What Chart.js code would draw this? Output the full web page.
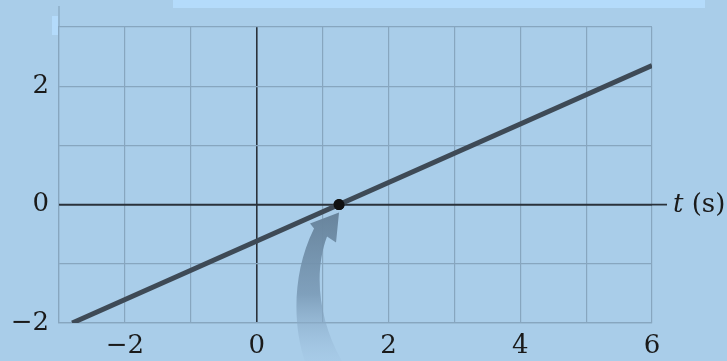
<!DOCTYPE html>
<html>
<head>
<meta charset="utf-8">
<style>
  html, body { margin: 0; padding: 0; background: #a9cde9; }
  #wrap { width: 727px; height: 361px; }
</style>
<script src="https://cdn.jsdelivr.net/npm/chart.js@4"></script>
</head>
<body>
<div id="wrap"><canvas id="c" width="727" height="361"></canvas></div>
<script>
// Straight-line position versus time, with its zero crossing marked
const lineTimes = [-2.8, 6];          // t (s)
const linePositions = [-2, 2.35];     // x
const crossingTime = [1.25];
const crossingPosition = [0];
const xTickLabels = { '-2': '−2', '0': '0', '2': '2', '4': '4', '6': '6' };
const yTickLabels = { '-2': '−2', '0': '0', '2': '2' };
const axisLabel = ['t', ' (s)'];

const BG = '#a9cde9';
const GRID = '#87a6bf';
const AXIS = '#2a323b';
const TEXT = '#1a1a1a';
const FONT = 'DejaVu Serif';

const lineData = lineTimes.map((t, i) => ({ x: t, y: linePositions[i] }));
const dotData = crossingTime.map((t, i) => ({ x: t, y: crossingPosition[i] }));

const gridColor = ctx => (ctx.tick && ctx.tick.value === 0) ? AXIS : GRID;
const gridWidth = ctx => (ctx.tick && ctx.tick.value === 0) ? 1.6 : 1.2;

const backdrop = {
  id: 'backdrop',
  beforeDraw(chart) {
    const c = chart.ctx;
    c.save();
    c.fillStyle = BG;
    c.fillRect(0, 0, chart.width, chart.height);
    c.fillStyle = '#b4dbfb';
    c.fillRect(173, 0, 532, 8);
    c.fillRect(52, 16, 6, 19);
    c.restore();
  }
};

const axesExtras = {
  id: 'axesExtras',
  beforeDatasetsDraw(chart) {
    const c = chart.ctx;
    const a = chart.chartArea;
    const ys = chart.scales.y;
    const y0 = ys.getPixelForValue(0);
    c.save();
    // left border rises a little above the grid
    c.strokeStyle = GRID;
    c.lineWidth = 1.2;
    c.beginPath();
    c.moveTo(a.left, a.top);
    c.lineTo(a.left, 6);
    c.stroke();
    // time axis runs past the grid to its label
    c.strokeStyle = AXIS;
    c.lineWidth = 1.6;
    c.beginPath();
    c.moveTo(a.left, y0);
    c.lineTo(a.right + 15, y0);
    c.stroke();
    // axis label
    c.fillStyle = TEXT;
    c.textBaseline = 'middle';
    c.font = 'italic 26px "' + FONT + '"';
    let x = a.right + 21;
    c.fillText(axisLabel[0], x, y0 + 1);
    x += c.measureText(axisLabel[0]).width;
    c.font = '26px "' + FONT + '"';
    c.fillText(axisLabel[1], x, y0 + 1);
    c.restore();
  },
  afterDatasetsDraw(chart) {
    // curved arrow pointing up at the crossing
    const c = chart.ctx;
    const px = chart.scales.x.getPixelForValue(crossingTime[0]);
    const py = chart.scales.y.getPixelForValue(crossingPosition[0]);
    const P = (dx, dy) => [px + dx, py + dy];
    c.save();
    const g = c.createLinearGradient(0, py + 8, 0, chart.height);
    g.addColorStop(0, 'rgba(104,132,156,1)');
    g.addColorStop(0.55, 'rgba(120,152,180,0.85)');
    g.addColorStop(1, 'rgba(160,195,225,0.25)');
    c.fillStyle = g;
    c.beginPath();
    let p = P(-25, 24); c.moveTo(p[0], p[1]);
    let q1 = P(-48, 70), q2 = P(-46, 125), e = P(-33, 160);
    c.bezierCurveTo(q1[0], q1[1], q2[0], q2[1], e[0], e[1]);
    e = P(5, 160); c.lineTo(e[0], e[1]);
    q1 = P(-20, 118); q2 = P(-26, 70); e = P(-12, 32);
    c.bezierCurveTo(q1[0], q1[1], q2[0], q2[1], e[0], e[1]);
    e = P(-3, 38); c.lineTo(e[0], e[1]);
    e = P(0, 8); c.lineTo(e[0], e[1]);
    e = P(-29, 19); c.lineTo(e[0], e[1]);
    c.closePath();
    c.fill();
    // keep the dot on top of the arrow tip
    c.fillStyle = '#111';
    c.beginPath();
    c.arc(px, py, 5.5, 0, Math.PI * 2);
    c.fill();
    c.restore();
  }
};

new Chart(document.getElementById('c'), {
  type: 'scatter',
  data: {
    datasets: [
      {
        data: lineData,
        showLine: true,
        borderColor: '#3e4a56',
        borderWidth: 5,
        borderCapStyle: 'butt',
        pointRadius: 0,
        pointHoverRadius: 0
      },
      {
        data: dotData,
        pointRadius: 5.5,
        pointBackgroundColor: '#111',
        pointBorderWidth: 0
      }
    ]
  },
  options: {
    responsive: false,
    animation: false,
    events: [],
    layout: { padding: { top: 27, right: 75, left: 0, bottom: 0 } },
    plugins: { legend: { display: false }, tooltip: { enabled: false } },
    scales: {
      x: {
        type: 'linear',
        min: -3, max: 6,
        afterFit: s => { s.height = 38; },
        grid: { color: gridColor, lineWidth: gridWidth, drawTicks: false },
        border: { display: true, color: GRID, width: 1.2 },
        ticks: {
          stepSize: 1,
          padding: 8,
          color: TEXT,
          font: { family: FONT, size: 26 },
          callback: v => xTickLabels[String(v)] ?? ''
        }
      },
      y: {
        type: 'linear',
        min: -2, max: 3,
        afterFit: s => { s.width = 59; },
        grid: { color: gridColor, lineWidth: gridWidth, drawTicks: false },
        border: { display: true, color: GRID, width: 1.2 },
        ticks: {
          stepSize: 1,
          padding: 10,
          color: TEXT,
          font: { family: FONT, size: 26 },
          callback: v => yTickLabels[String(v)] ?? ''
        }
      }
    }
  },
  plugins: [backdrop, axesExtras]
});
</script>
</body>
</html>
